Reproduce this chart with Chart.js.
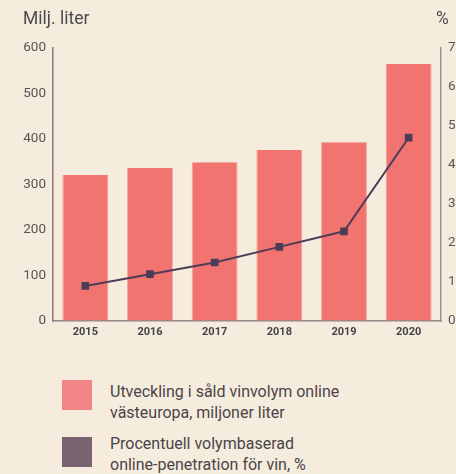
<!DOCTYPE html>
<html>
<head>
<meta charset="utf-8">
<script src="https://cdn.jsdelivr.net/npm/chart.js@4.4.1/dist/chart.umd.min.js"></script>
<style>
  html, body { margin: 0; padding: 0; background: #f5ecde; overflow: hidden; }
  body { width: 456px; height: 474px; position: relative; font-family: Roboto, sans-serif; color: #444; }
  #wrap { position: absolute; left: 0; top: 0; width: 475px; height: 350px; }
  .unit { position: absolute; top: 8px; font-size: 17.5px; color: #4a4a4a; }
  .legend { position: absolute; left: 62px; }
  .legend .sw { position: absolute; left: 0; top: 0; width: 30px; height: 30px; }
  .legend .tx { position: absolute; left: 48px; width: 320px; font-size: 16px; line-height: 20.5px; color: #4a4548; }
</style>
</head>
<body>
<div id="wrap"><canvas id="chart" width="475" height="350"></canvas></div>
<div class="unit" style="left:23px">Milj. liter</div>
<div class="unit" style="left:436px">%</div>
<div class="legend" style="top:380px"><div class="sw" style="background:#f28585"></div><div class="tx" style="top:2px">Utveckling i såld vinvolym online<br>västeuropa, miljoner liter</div></div>
<div class="legend" style="top:437px"><div class="sw" style="background:#7a6370"></div><div class="tx" style="top:-3px">Procentuell volymbaserad<br>online-penetration för vin, %</div></div>
<script>
const years = ['2015', '2016', '2017', '2018', '2019', '2020'];
const volume = [321, 336, 349, 376, 393, 565];
const penetration = [0.9, 1.2, 1.5, 1.9, 2.3, 4.7];
const volumeRange = [0, 600, 100]; // min, max, step
const percentRange = [0, 7, 1];

const tickFont = { family: 'Roboto, sans-serif', size: 13.5 };
// grid on but off the chart area, so the axis line and labels still draw
const axisGrid = { display: true, drawOnChartArea: false, drawTicks: false };

new Chart(document.getElementById('chart'), {
  data: {
    labels: years,
    datasets: [
      {
        type: 'line',
        data: penetration,
        yAxisID: 'y1',
        borderColor: '#4c3d57',
        backgroundColor: '#4c3d57',
        borderWidth: 2,
        pointStyle: 'rect',
        pointRadius: 4,
        pointHoverRadius: 4,
        order: 0,
      },
      {
        type: 'bar',
        data: volume,
        yAxisID: 'y',
        backgroundColor: '#f27471',
        borderColor: '#f6a19b',
        borderWidth: { left: 1, right: 1, top: 0, bottom: 0 },
        barPercentage: 0.71,
        categoryPercentage: 1,
        order: 1,
      },
    ],
  },
  options: {
    responsive: false,
    animation: false,
    layout: { padding: { top: 48 } },
    plugins: { legend: { display: false }, tooltip: { enabled: false } },
    scales: {
      x: {
        grid: axisGrid,
        border: { color: '#8f8888', width: 1.5 },
        ticks: { color: '#444', font: { family: 'Roboto, sans-serif', size: 11, weight: 'bold' }, padding: 5 },
        afterFit: (s) => { s.height = 29; },
      },
      y: {
        position: 'left',
        min: volumeRange[0],
        max: volumeRange[1],
        grid: axisGrid,
        border: { color: '#8a7b84', width: 1.5 },
        ticks: { stepSize: volumeRange[2], color: '#555', font: tickFont, padding: 7 },
        afterFit: (s) => { s.width = 53; },
      },
      y1: {
        position: 'right',
        min: percentRange[0],
        max: percentRange[1],
        grid: axisGrid,
        border: { color: '#9c948c', width: 1.5 },
        ticks: { stepSize: percentRange[2], color: '#555', font: tickFont, padding: 7 },
        afterFit: (s) => { s.width = 34; },
      },
    },
  },
});
</script>
</body>
</html>
